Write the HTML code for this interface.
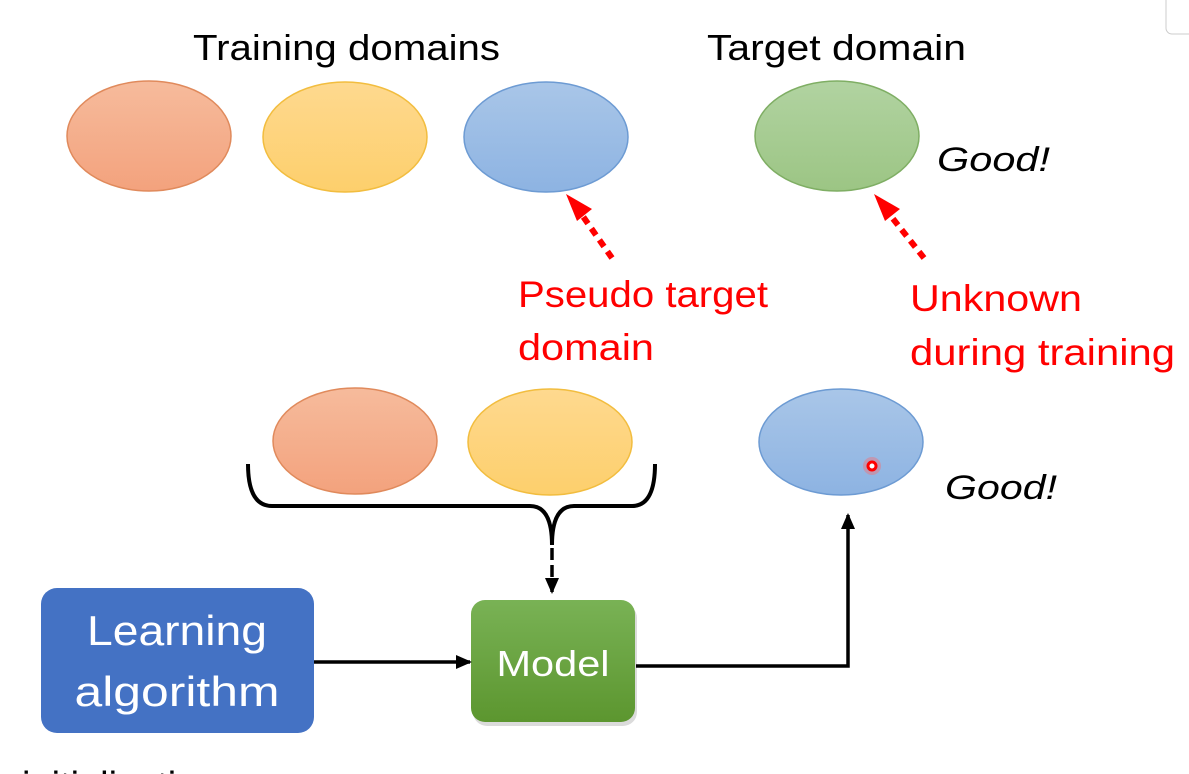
<!DOCTYPE html>
<html><head><style>
html,body{margin:0;padding:0;background:#fff;width:1189px;height:774px;overflow:hidden}
svg text{font-family:"Liberation Sans",sans-serif}
</style></head><body>
<svg width="1189" height="774" viewBox="0 0 1189 774" xmlns="http://www.w3.org/2000/svg">
<defs>
<linearGradient id="go" x1="0" y1="0" x2="0" y2="1"><stop offset="0" stop-color="#f6bb9c"/><stop offset="1" stop-color="#f3a27d"/></linearGradient>
<linearGradient id="gy" x1="0" y1="0" x2="0" y2="1"><stop offset="0" stop-color="#fed98f"/><stop offset="1" stop-color="#fdcf6c"/></linearGradient>
<linearGradient id="gb" x1="0" y1="0" x2="0" y2="1"><stop offset="0" stop-color="#a9c6e8"/><stop offset="1" stop-color="#8db3e2"/></linearGradient>
<linearGradient id="gg" x1="0" y1="0" x2="0" y2="1"><stop offset="0" stop-color="#b1d3a1"/><stop offset="1" stop-color="#9cc584"/></linearGradient>
<linearGradient id="gm" x1="0" y1="0" x2="0" y2="1"><stop offset="0" stop-color="#79b255"/><stop offset="1" stop-color="#5c962f"/></linearGradient>
<marker id="ah" markerWidth="16" markerHeight="14" refX="14" refY="7" orient="auto" markerUnits="userSpaceOnUse"><path d="M0,0 L16,7 L0,14z" fill="#000"/></marker>
</defs>
<rect x="1166" y="-6" width="30" height="40" rx="6" fill="#fff" stroke="#ccc"/>
<text x="193" y="60" font-size="36" textLength="307" lengthAdjust="spacingAndGlyphs">Training domains</text>
<text x="707" y="60" font-size="36" textLength="259" lengthAdjust="spacingAndGlyphs">Target domain</text>
<ellipse cx="149" cy="136" rx="82" ry="55" fill="url(#go)" stroke="#e08a5c" stroke-width="1.5"/>
<ellipse cx="345" cy="137" rx="82" ry="55" fill="url(#gy)" stroke="#f2bd3f" stroke-width="1.5"/>
<ellipse cx="546" cy="137" rx="82" ry="55" fill="url(#gb)" stroke="#6d9bd3" stroke-width="1.5"/>
<ellipse cx="837" cy="136" rx="82" ry="55" fill="url(#gg)" stroke="#7fae64" stroke-width="1.5"/>
<text x="937" y="171" font-size="34" font-style="italic" textLength="113" lengthAdjust="spacingAndGlyphs">Good!</text>
<g stroke="#f00" stroke-width="6" stroke-dasharray="8,6">
<line x1="612" y1="258" x2="582" y2="215"/>
<line x1="924" y1="258" x2="890" y2="215"/>
</g>
<path d="M566,194 L592,209 L577,221z" fill="#f00"/>
<path d="M874,194 L900,209 L885,221z" fill="#f00"/>
<g fill="#f00" font-size="37">
<text x="518" y="307" textLength="250" lengthAdjust="spacingAndGlyphs">Pseudo target</text>
<text x="518" y="360" textLength="136" lengthAdjust="spacingAndGlyphs">domain</text>
<text x="910" y="311" textLength="172" lengthAdjust="spacingAndGlyphs">Unknown</text>
<text x="910" y="365" textLength="265" lengthAdjust="spacingAndGlyphs">during training</text>
</g>
<ellipse cx="355" cy="441" rx="82" ry="53" fill="url(#go)" stroke="#e08a5c" stroke-width="1.5"/>
<ellipse cx="550" cy="442" rx="82" ry="53" fill="url(#gy)" stroke="#f2bd3f" stroke-width="1.5"/>
<ellipse cx="841" cy="442" rx="82" ry="53" fill="url(#gb)" stroke="#6d9bd3" stroke-width="1.5"/>
<circle cx="872" cy="466" r="9" fill="#f66" opacity="0.4"/>
<circle cx="872" cy="466" r="4" fill="#fff" stroke="#f00" stroke-width="3"/>
<text x="945" y="499" font-size="34" font-style="italic" textLength="112" lengthAdjust="spacingAndGlyphs">Good!</text>
<path d="M248,464 Q248,506 272,506 L530,506 Q552,506 552,545 Q552,506 574,506 L632,506 Q655,506 655,464" fill="none" stroke="#000" stroke-width="4"/>
<line x1="552" y1="548" x2="552" y2="592" stroke="#000" stroke-width="3.5" stroke-dasharray="12,5" marker-end="url(#ah)"/>
<rect x="41" y="588" width="273" height="145" rx="16" fill="#4472c4"/>
<text x="177" y="645" font-size="42" fill="#fff" text-anchor="middle" textLength="180" lengthAdjust="spacingAndGlyphs">Learning</text>
<text x="177" y="706" font-size="42" fill="#fff" text-anchor="middle" textLength="205" lengthAdjust="spacingAndGlyphs">algorithm</text>
<rect x="473" y="604" width="164" height="122" rx="14" fill="#999" opacity="0.35"/>
<rect x="471" y="600" width="164" height="122" rx="14" fill="url(#gm)"/>
<text x="553" y="676" font-size="36" fill="#fff" text-anchor="middle" textLength="113" lengthAdjust="spacingAndGlyphs">Model</text>
<line x1="314" y1="662" x2="470" y2="662" stroke="#000" stroke-width="3.5" marker-end="url(#ah)"/>
<polyline points="636,666 848,666 848,515" fill="none" stroke="#000" stroke-width="3.5" marker-end="url(#ah)"/>
<text x="22" y="798" font-size="38" fill="#000">initialization</text>
</svg>
</body></html>
